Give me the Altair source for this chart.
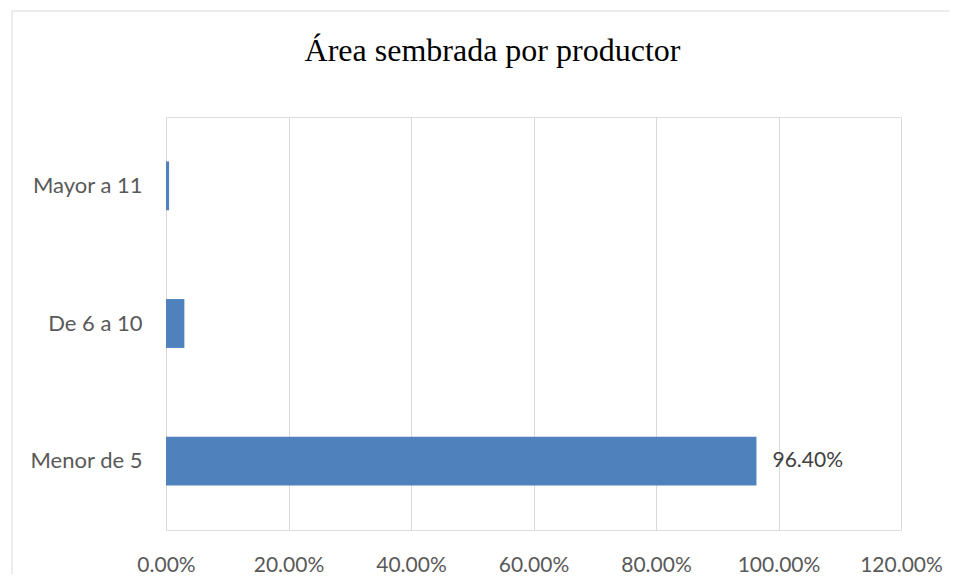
import altair as alt
import pandas as pd

categories = ["Mayor a 11", "De 6 a 10", "Menor de 5"]
values = [0.005, 0.030, 0.964]
labels = ["", "", "96.40%"]
x_ticks = [0, 0.2, 0.4, 0.6, 0.8, 1.0, 1.2]

df = pd.DataFrame({"cat": categories, "val": values, "lab": labels})

LABEL_FONT = "Lato"

y_enc = alt.Y(
    "cat:N", sort=categories, title=None,
    scale=alt.Scale(paddingInner=0.645, paddingOuter=0.3225),
    axis=alt.Axis(domain=False, ticks=False, grid=False, labelPadding=24,
                  labelFont=LABEL_FONT, labelFontSize=22, labelColor="#595959"),
)
x_enc = alt.X(
    "val:Q", title=None,
    scale=alt.Scale(domain=[0, 1.2], nice=False),
    axis=alt.Axis(values=x_ticks, format=".2%", domain=False, ticks=False, grid=True,
                  gridColor="#d9d9d9", gridWidth=1, labelPadding=24, labelFlush=False,
                  labelOverlap=False,
                  labelFont=LABEL_FONT, labelFontSize=21, labelColor="#595959"),
)

border_top = alt.Chart(pd.DataFrame({"a": [0]})).mark_rule(
    stroke="#d9d9d9", strokeWidth=1
).encode(x=alt.value(-154), x2=alt.value(1400), y=alt.value(-106))
border_left = alt.Chart(pd.DataFrame({"a": [0]})).mark_rule(
    stroke="#d9d9d9", strokeWidth=1
).encode(x=alt.value(-154), y=alt.value(-106), y2=alt.value(1400))

bars = alt.Chart(df).mark_bar(color="#4f81bd").encode(x=x_enc, y=y_enc)

text = alt.Chart(df).mark_text(
    align="left", baseline="middle", dx=16, font=LABEL_FONT, fontSize=21, color="#404040"
).encode(x="val:Q", y=alt.Y("cat:N", sort=categories), text="lab:N")

chart = alt.layer(border_top, border_left, bars, text).properties(
    width=735, height=413,
    title=alt.TitleParams(
        "Área sembrada por productor", font="Liberation Serif", fontSize=32,
        fontWeight="normal", color="#000000", anchor="middle", dx=-41, offset=-82,
        baseline="alphabetic",
    ),
    autosize=alt.AutoSizeParams(type="none"),
    padding={"left": 158, "top": 109, "right": 48, "bottom": 44},
).configure_view(stroke=None).configure(background="white")

chart.save("out.html", embed_options={"renderer": "svg", "actions": False})
